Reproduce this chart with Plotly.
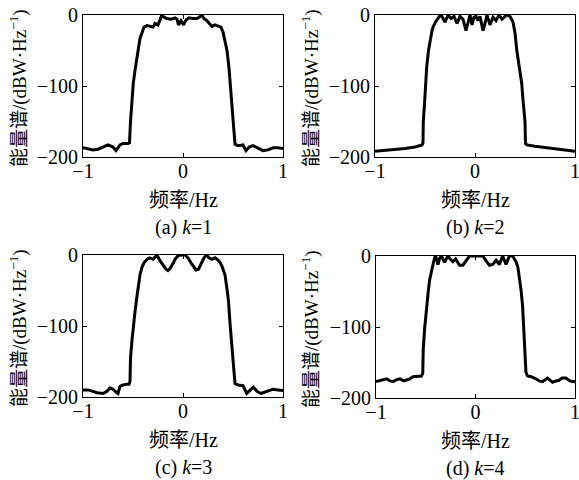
import plotly.graph_objects as go

# ---------------- data ----------------
x_a = [-1.0, -0.95, -0.9, -0.85, -0.8, -0.75, -0.7, -0.67, -0.63, -0.6, -0.55, -0.535, -0.525, -0.51,
       -0.497, -0.48, -0.463, -0.445, -0.43, -0.41, -0.39, -0.36, -0.33, -0.3, -0.28, -0.25, -0.23,
       -0.213, -0.19, -0.16, -0.12, -0.08, -0.06, -0.045, -0.02, 0.005, 0.03, 0.06, 0.1, 0.14, 0.165,
       0.187, 0.21, 0.24, 0.27, 0.29, 0.32, 0.35, 0.38, 0.40, 0.42, 0.44, 0.46, 0.475, 0.49, 0.5,
       0.51, 0.52, 0.55, 0.6, 0.63, 0.66, 0.7, 0.75, 0.8, 0.85, 0.9, 0.95, 1.0]
y_a = [-187, -188, -190, -189, -186, -183, -186, -191, -183, -181, -181, -180, -150, -120,
       -96, -78, -61, -45, -33, -25, -17, -15, -16, -17, -12, -14, -7,
       0, -3, -5, -6, -4, -6, -14, -8, -14, -7, -4, -5, -5, -3,
       0, -5, -8, -13, -16, -14, -15, -17, -24, -35, -50, -75, -100, -135, -150,
       -170, -182, -184, -183, -191, -186, -184, -188, -191, -190, -187, -187, -188]

x_b = [-1.0, -0.9, -0.8, -0.7, -0.6, -0.55, -0.53, -0.52, -0.517, -0.505, -0.495, -0.483, -0.465,
       -0.45, -0.43, -0.417, -0.4, -0.383, -0.36, -0.35, -0.33, -0.3, -0.27, -0.24, -0.21, -0.18,
       -0.15, -0.12, -0.09, -0.07, -0.05, -0.03, -0.01, 0.01, 0.03, 0.05, 0.08, 0.1, 0.12, 0.15,
       0.18, 0.21, 0.24, 0.27, 0.3, 0.33, 0.35, 0.38, 0.4, 0.417, 0.435, 0.45, 0.467, 0.48, 0.49,
       0.5, 0.505, 0.52, 0.6, 0.7, 0.8, 0.9, 1.0]
y_b = [-192, -191, -189, -188, -186, -184, -183, -180, -150, -125, -100, -73, -50,
       -35, -22, -16, -11, -7, -3, 0, -2, -10, 0, -5, -2, -12,
       -2, -6, -22, -10, 0, -14, -3, -2, -8, -2, -22, -12, 0, -14,
       -3, -8, 0, -6, -2, 0, -2, -10, -25, -49, -68, -80, -96, -120, -140,
       -150, -181, -183, -185, -187, -189, -191, -192]

x_c = [-1.0, -0.95, -0.9, -0.86, -0.8, -0.76, -0.73, -0.7, -0.67, -0.65, -0.63, -0.6, -0.56, -0.54,
       -0.53, -0.525, -0.51, -0.497, -0.48, -0.463, -0.445, -0.43, -0.41, -0.39, -0.36, -0.33, -0.3,
       -0.28, -0.26, -0.23, -0.2, -0.17, -0.15, -0.13, -0.1, -0.08, -0.05, -0.02, 0.02, 0.05, 0.08,
       0.11, 0.13, 0.155, 0.18, 0.21, 0.237, 0.26, 0.29, 0.32, 0.34, 0.37, 0.39, 0.42, 0.44, 0.455,
       0.47, 0.49, 0.503, 0.51, 0.52, 0.55, 0.6, 0.637, 0.67, 0.703, 0.74, 0.78, 0.8, 0.85, 0.9,
       0.95, 1.0]
y_c = [-190, -190, -192, -194, -195, -192, -187, -189, -193, -195, -185, -183, -182, -182,
       -178, -145, -120, -98, -80, -61, -42, -28, -17, -11, -6, -4, -6,
       -3, 0, -8, -15, -20, -22, -19, -12, -6, -1, 0, 0, -4, -11,
       -18, -21, -20, -12, -4, 0, -4, -6, -4, -6, -10, -16, -28, -48, -65,
       -96, -130, -143, -165, -181, -183, -184, -195, -190, -186, -192, -195, -194, -191, -189,
       -190, -191]

x_d = [-1.0, -0.95, -0.893, -0.86, -0.827, -0.79, -0.76, -0.72, -0.693, -0.66, -0.627, -0.58, -0.543,
       -0.53, -0.525, -0.51, -0.493, -0.475, -0.46, -0.44, -0.427, -0.41, -0.4, -0.377, -0.36, -0.343,
       -0.325, -0.31, -0.29, -0.277, -0.25, -0.227, -0.2, -0.177, -0.16, -0.127, -0.093, -0.06, 0.04,
       0.073, 0.107, 0.14, 0.173, 0.207, 0.24, 0.273, 0.307, 0.34, 0.373, 0.407, 0.425, 0.44, 0.458,
       0.473, 0.49, 0.507, 0.523, 0.56, 0.607, 0.64, 0.673, 0.7, 0.723, 0.75, 0.773, 0.81, 0.84,
       0.87, 0.907, 0.95, 1.0]
y_d = [-177, -175, -173, -176, -177, -174, -173, -176, -175, -173, -170, -170, -169,
       -165, -131, -100, -70, -50, -33, -18, -12, -2, 0, -12, -3, 0,
       -5, -9, -3, 0, -5, -8, -4, -9, -13, -13, -7, 0, 0,
       0, -7, -13, -12, -6, -12, 0, -12, 0, 0, -8, -15, -28, -48,
       -70, -117, -164, -169, -170, -173, -176, -177, -174, -172, -175, -178, -176, -175,
       -172, -172, -176, -177]

captions = ["(a) <i>k</i>=1", "(b) <i>k</i>=2", "(c) <i>k</i>=3", "(d) <i>k</i>=4"]
x_title = "频率/Hz"
y_title = "能量谱/(dBW·Hz<sup>−1</sup>)"
x_ticks = [-1, 0, 1]
y_ticks = [-200, -100, 0]

# ---------------- layout ----------------
W, H = 579, 480
# plot boxes in pixels: (left, right, top, bottom)
boxes = [(83, 283, 15, 157), (375, 575, 15, 157), (83, 283, 255, 397), (376, 575, 256, 398)]
series = [(x_a, y_a), (x_b, y_b), (x_c, y_c), (x_d, y_d)]

FONT = "Liberation Serif, Noto Sans CJK SC, serif"
fig = go.Figure()
layout = dict(width=W, height=H, margin=dict(l=0, r=0, t=0, b=0),
              paper_bgcolor="white", plot_bgcolor="white", showlegend=False,
              font=dict(family=FONT, size=20, color="black"))
annotations = []
for i, ((l, r, t, b), (xs, ys)) in enumerate(zip(boxes, series)):
    n = "" if i == 0 else str(i + 1)
    fig.add_trace(go.Scatter(x=xs, y=ys, mode="lines", xaxis="x" + n, yaxis="y" + n,
                             line=dict(color="black", width=3), hoverinfo="skip"))
    common = dict(showline=True, linecolor="black", linewidth=1, mirror="ticks",
                  ticks="inside", ticklen=4, tickwidth=1, tickcolor="black",
                  showgrid=False, zeroline=False, automargin=False,
                  ticklabeloverflow="allow",
                  tickfont=dict(family=FONT, size=20, color="black"))
    layout["xaxis" + n] = dict(domain=[l / W, r / W], anchor="y" + n, range=[-1, 1],
                               tickvals=x_ticks, ticklabelstandoff=-4, **common)
    layout["yaxis" + n] = dict(domain=[1 - b / H, 1 - t / H], anchor="x" + n, range=[-200, 0],
                               tickvals=y_ticks, **common)
    cx = (l + r) / 2
    annotations.append(dict(text=x_title, x=cx / W, y=1 - (b + 43) / H, xref="paper", yref="paper",
                            xanchor="center", yanchor="middle", showarrow=False,
                            font=dict(family=FONT, size=20, color="black")))
    annotations.append(dict(text=captions[i], x=cx / W, y=1 - (b + 70) / H, xref="paper", yref="paper",
                            xanchor="center", yanchor="middle", showarrow=False,
                            font=dict(family=FONT, size=20, color="black")))
    ytx = 18 if l < 200 else 310
    annotations.append(dict(text=y_title, x=ytx / W, y=1 - ((t + b) / 2 + 2) / H, xref="paper",
                            yref="paper", xanchor="center", yanchor="middle", textangle=-90,
                            showarrow=False, font=dict(family=FONT, size=19, color="black")))
layout["annotations"] = annotations
fig.update_layout(**layout)
fig.write_html("out.html")
